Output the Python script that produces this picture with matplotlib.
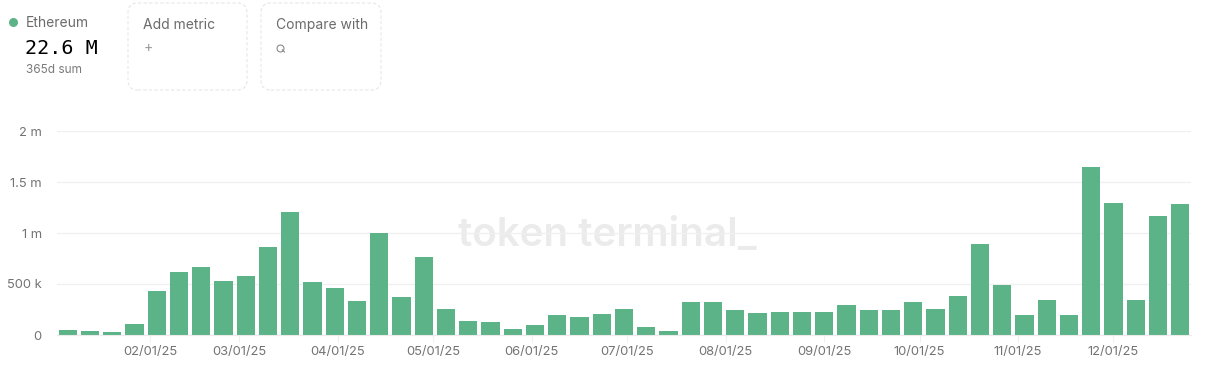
import matplotlib
matplotlib.use("Agg")
import matplotlib.pyplot as plt
import matplotlib.dates as mdates
from matplotlib.patches import FancyBboxPatch
from matplotlib.lines import Line2D
import pandas as pd

# weekly values (week starting Monday)
weeks = pd.date_range("2025-01-06", periods=51, freq="W-MON")
values = [49, 39, 29, 108, 432, 619, 668, 530, 579, 864, 1208, 520, 462, 334, 1002, 373,
          766, 255, 137, 128, 59, 98, 196, 177, 206, 255, 79, 39, 324, 324, 245, 216, 226, 226, 226,
          295, 245, 245, 324, 255, 383, 894, 491, 196, 344, 196, 1650, 1296, 344, 1169, 1286]
values = [v * 1000 for v in values]

y_ticks = [0, 500000, 1000000, 1500000, 2000000]
y_labels = ["0", "500 k", "1 m", "1.5 m", "2 m"]

chain = "Ethereum"
total = "22.6 M"

GREEN = "#5bb387"
GRID = "#f0f0f0"
LABEL = "#737373"

W, H = 1215, 374
fig = plt.figure(figsize=(W / 100, H / 100), dpi=100)
plt.rcParams["font.family"] = ["Inter", "DejaVu Sans"]


def fx(px):
    return px / W


def fy(py):
    return 1 - py / H


ax = fig.add_axes([fx(57), fy(335), fx(1191) - fx(57), fy(131) - fy(335)])

ax.bar(weeks, values, width=5.7, color=GREEN, zorder=2)

ax.set_ylim(0, 2000000)
ax.set_xlim(weeks[0] - pd.Timedelta(days=3.4), weeks[-1] + pd.Timedelta(days=3.4))
ax.set_yticks(y_ticks)
ax.set_yticklabels(y_labels)
ax.xaxis.set_major_locator(mdates.MonthLocator(bymonthday=1))
ax.xaxis.set_major_formatter(mdates.DateFormatter("%m/%d/%y"))

ax.grid(axis="y", color=GRID, linewidth=1, zorder=0)
for s in ["top", "right", "left"]:
    ax.spines[s].set_visible(False)
ax.spines["bottom"].set_color("#ebebeb")
ax.tick_params(axis="y", length=0, pad=11, labelsize=9.3, labelcolor=LABEL)
ax.tick_params(axis="x", length=5, color="#f0f0f0", pad=3, labelsize=9.3, labelcolor=LABEL)

# watermark
ax.text(0.485, 0.49, "token terminal_", transform=ax.transAxes, ha="center", va="center",
        fontsize=29, fontweight="semibold", color="#ebebeb", zorder=1)

# header
fig.add_artist(Line2D([fx(13)], [fy(22)], transform=fig.transFigure, marker="o",
                      markersize=6.5, color=GREEN, markeredgewidth=0))
fig.text(fx(26), fy(23), chain, fontsize=10, color="#6b6b6b", va="center", ha="left")
fig.text(fx(25), fy(48), total, fontsize=14.5, color="#000000", va="center", ha="left",
         family="DejaVu Sans Mono")
fig.text(fx(26), fy(70), "365d sum", fontsize=8.5, color="#7a7a7a", va="center", ha="left")

for x0, x1, label in [(128, 247, "Add metric"), (261, 381, "Compare with")]:
    box = FancyBboxPatch((fx(x0), fy(90)), fx(x1) - fx(x0), fy(3) - fy(90),
                         boxstyle="round,pad=0,rounding_size=0.008",
                         transform=fig.transFigure, fc="none", ec="#e6e6e6",
                         lw=0.8, ls=(0, (3, 2)), mutation_aspect=W / H)
    fig.add_artist(box)
    fig.text(fx(x0 + 15), fy(25), label, fontsize=10, color="#6b6b6b", va="center", ha="left")

fig.text(fx(148), fy(48), "+", fontsize=10, color="#9a9a9a", va="center", ha="center")
fig.add_artist(Line2D([fx(280)], [fy(47.5)], transform=fig.transFigure, marker="o",
                      markersize=5, markerfacecolor="none", markeredgecolor="#8a8a8a",
                      markeredgewidth=0.8))
fig.add_artist(Line2D([fx(282.3), fx(284.5)], [fy(49.8), fy(52)], transform=fig.transFigure,
                      color="#8a8a8a", lw=0.8))

fig.savefig("out.png", dpi=100)
